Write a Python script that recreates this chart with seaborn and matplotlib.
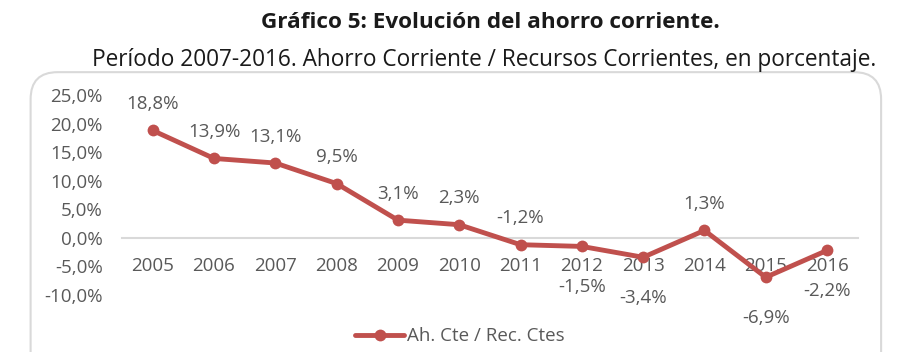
import numpy as np
import pandas as pd
import matplotlib
matplotlib.use("Agg")
import matplotlib.pyplot as plt
from matplotlib.patches import FancyBboxPatch
import seaborn as sns

sns.set_theme(style="white")
plt.rcParams['font.family'] = ['Open Sans', 'DejaVu Sans']

# Data
years = ['2005', '2006', '2007', '2008', '2009', '2010',
         '2011', '2012', '2013', '2014', '2015', '2016']
ahorro = [18.8, 13.9, 13.1, 9.5, 3.1, 2.3, -1.2, -1.5, -3.4, 1.3, -6.9, -2.2]
label_above = [True, True, True, True, True, True, True, False, False, True, False, False]
yticks = [25, 20, 15, 10, 5, 0, -5, -10]

red = '#C0504D'
grey = '#595959'

df = pd.DataFrame({'year': years, 'valor': ahorro})

fig = plt.figure(figsize=(9, 3.52), dpi=100)

# rounded frame around the plot area
frame = FancyBboxPatch((0.034, -0.1), 0.945, 0.895, boxstyle="round,pad=0,rounding_size=0.03",
                       transform=fig.transFigure, facecolor='white', edgecolor='#D9D9D9',
                       linewidth=1.5, mutation_aspect=2.56, zorder=-5)
fig.patches.append(frame)

ax = fig.add_axes([0.1356, 0.162, 0.8174, 0.568])
ax.set_facecolor('none')
ax.set_zorder(2)
sns.lineplot(data=df, x='year', y='valor', sort=False, color=red, linewidth=3.5,
             marker='o', markersize=8.5, markeredgewidth=0, ax=ax,
             label='Ah. Cte / Rec. Ctes')

ax.set_xlim(-0.5, len(years) - 0.5)
ax.set_ylim(-10, 25)
ax.set_yticks(yticks)
ax.set_yticklabels([f"{v:.1f}%".replace('.', ',') for v in yticks])
ax.set_xlabel('')
ax.set_ylabel('')

for s in ['top', 'right', 'left']:
    ax.spines[s].set_visible(False)
ax.spines['bottom'].set_position(('data', 0))
ax.spines['bottom'].set_color('#D9D9D9')
ax.spines['bottom'].set_linewidth(1.5)
ax.spines['bottom'].set_zorder(0)
ax.tick_params(axis='x', length=0, pad=14, labelsize=13.5, labelcolor=grey)
ax.tick_params(axis='y', length=0, pad=14, labelsize=13.5, labelcolor=grey)

for i, (v, up) in enumerate(zip(ahorro, label_above)):
    off = 19 if up else -29
    ax.annotate(f"{v:.1f}%".replace('.', ','), (i, v), xytext=(0, off),
                textcoords='offset points', ha='center',
                va='center', fontsize=13.5, color=grey)

leg = ax.legend(loc='center', bbox_to_anchor=(0.511, 0.045), bbox_transform=fig.transFigure,
                frameon=False, fontsize=13.5, handlelength=2.6, handletextpad=0.15)
for t in leg.get_texts():
    t.set_color(grey)

fig.text(0.545, 0.935, 'Gráfico 5: Evolución del ahorro corriente.', ha='center', va='center',
         fontsize=16.2, fontweight='bold', color='#1a1a1a')
fig.text(0.538, 0.83, 'Período 2007-2016. Ahorro Corriente / Recursos Corrientes, en porcentaje.',
         ha='center', va='center', fontsize=16.3, color='#1a1a1a')

fig.savefig('out.png', dpi=100)
